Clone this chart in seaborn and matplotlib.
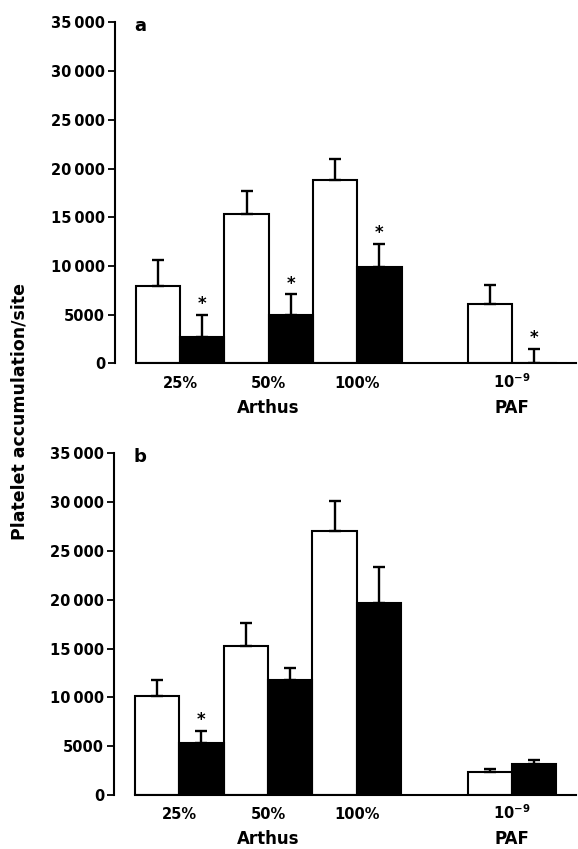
import numpy as np
import pandas as pd
import matplotlib
matplotlib.use("Agg")
import matplotlib.pyplot as plt
import matplotlib.transforms as mtransforms
from matplotlib.container import BarContainer
import seaborn as sns

# ---------------- data ----------------
doses = ["25%", "50%", "100%", r"$\mathbf{10^{-9}}$"]
stimulus = ["Arthus", "Arthus", "Arthus", "PAF"]
treatments = ["control", "treated"]

control_a = [8000, 15300, 18800, 6100]
control_a_err = [2650, 2400, 2200, 2000]
treated_a = [2700, 5000, 9900, 100]
treated_a_err = [2300, 2100, 2350, 1400]
sig_a = [True, True, True, True]

control_b = [10150, 15300, 27050, 2350]
control_b_err = [1600, 2300, 3050, 300]
treated_b = [5350, 11800, 19700, 3150]
treated_b_err = [1200, 1200, 3650, 400]
sig_b = [True, False, False, False]

y_ticks = [0, 5000, 10000, 15000, 20000, 25000, 30000, 35000]
y_tick_labels = ["0", "5000", "10\u2009000", "15\u2009000", "20\u2009000",
                 "25\u2009000", "30\u2009000", "35\u2009000"]

# ---------------- layout ----------------
group_pos = [0, 1, 2, 3.75]   # horizontal placement of groups (gap before PAF)

sns.set_style("ticks")
plt.rcParams["font.family"] = ["DejaVu Sans"]
plt.rcParams["font.weight"] = "bold"
plt.rcParams["mathtext.fontset"] = "dejavusans"
for k in ["text.color", "axes.labelcolor", "xtick.color", "ytick.color",
          "axes.edgecolor"]:
    plt.rcParams[k] = "black"

W, H = 578, 849
fig = plt.figure(figsize=(W / 100, H / 100), dpi=100)
ax_a = fig.add_axes([115 / W, 1 - 363.5 / H, (576 - 115) / W, 341.2 / H])
ax_b = fig.add_axes([114 / W, 1 - 795 / H, (576 - 114) / W, 341.7 / H])


def draw_panel(ax, ctrl, ctrl_err, trt, trt_err, sig, letter):
    df = pd.DataFrame({
        "pos": group_pos * 2,
        "value": list(ctrl) + list(trt),
        "treatment": [treatments[0]] * 4 + [treatments[1]] * 4,
    })
    sns.barplot(data=df, x="pos", y="value", hue="treatment",
                hue_order=treatments, native_scale=True, width=1.0,
                palette=["white", "black"], edgecolor="black", linewidth=1.5,
                errorbar=None, legend=False, ax=ax, saturation=1)
    bar_conts = [c for c in ax.containers if isinstance(c, BarContainer)]
    errs = [ctrl_err, trt_err]
    for ci, cont in enumerate(bar_conts):
        for j, bar in enumerate(cont):
            xc = bar.get_x() + bar.get_width() / 2
            h = bar.get_height()
            e = errs[ci][j]
            ax.errorbar([xc], [h], yerr=[[0], [e]], fmt="none", ecolor="black",
                        elinewidth=1.7, capsize=4, capthick=1.7, zorder=4)
            if ci == 1 and sig[j]:
                ax.text(xc, h + e + 1100, "*", ha="center", va="center",
                        fontsize=12, fontweight="bold")

    ax.set_ylim(0, 35000)
    ax.set_xlim(-0.735, 4.47)
    ax.set_yticks(y_ticks)
    ax.set_yticklabels(y_tick_labels, fontsize=10.5, fontweight="bold")
    ax.set_xticks(group_pos)
    ax.set_xticklabels(doses, fontsize=10.5, fontweight="bold")
    for lbl in ax.get_xticklabels():
        lbl.set_verticalalignment("baseline")
    ax.tick_params(axis="x", length=0, pad=17.5)
    ax.tick_params(axis="y", length=5, width=1.3, pad=2, direction="out")
    ax.set_xlabel("")
    ax.set_ylabel("")
    sns.despine(ax=ax)
    ax.spines["left"].set_linewidth(1.5)
    ax.spines["bottom"].set_linewidth(1.5)
    ax.spines["left"].set_bounds(0, 35000)
    first_left = min(b.get_x() for c in bar_conts for b in c)
    ax.spines["bottom"].set_bounds(first_left, 4.47)

    trans = mtransforms.blended_transform_factory(ax.transData, ax.transAxes)
    seen = []
    for p, s in zip(group_pos, stimulus):
        if s in seen:
            continue
        members = [q for q, t in zip(group_pos, stimulus) if t == s]
        xc = members[len(members) // 2]
        ax.text(xc, -0.13, s, transform=trans, ha="center", va="center",
                fontsize=12, fontweight="bold")
        seen.append(s)
    ax.text(-0.52, 0.99, letter, transform=trans, ha="left", va="center",
            fontsize=13, fontweight="bold")


draw_panel(ax_a, control_a, control_a_err, treated_a, treated_a_err, sig_a, "a")
draw_panel(ax_b, control_b, control_b_err, treated_b, treated_b_err, sig_b, "b")

fig.text(20 / W, 1 - 412 / H, "Platelet accumulation/site", rotation=90,
         ha="center", va="center", fontsize=12.5, fontweight="bold")

fig.savefig("out.png", dpi=100)
